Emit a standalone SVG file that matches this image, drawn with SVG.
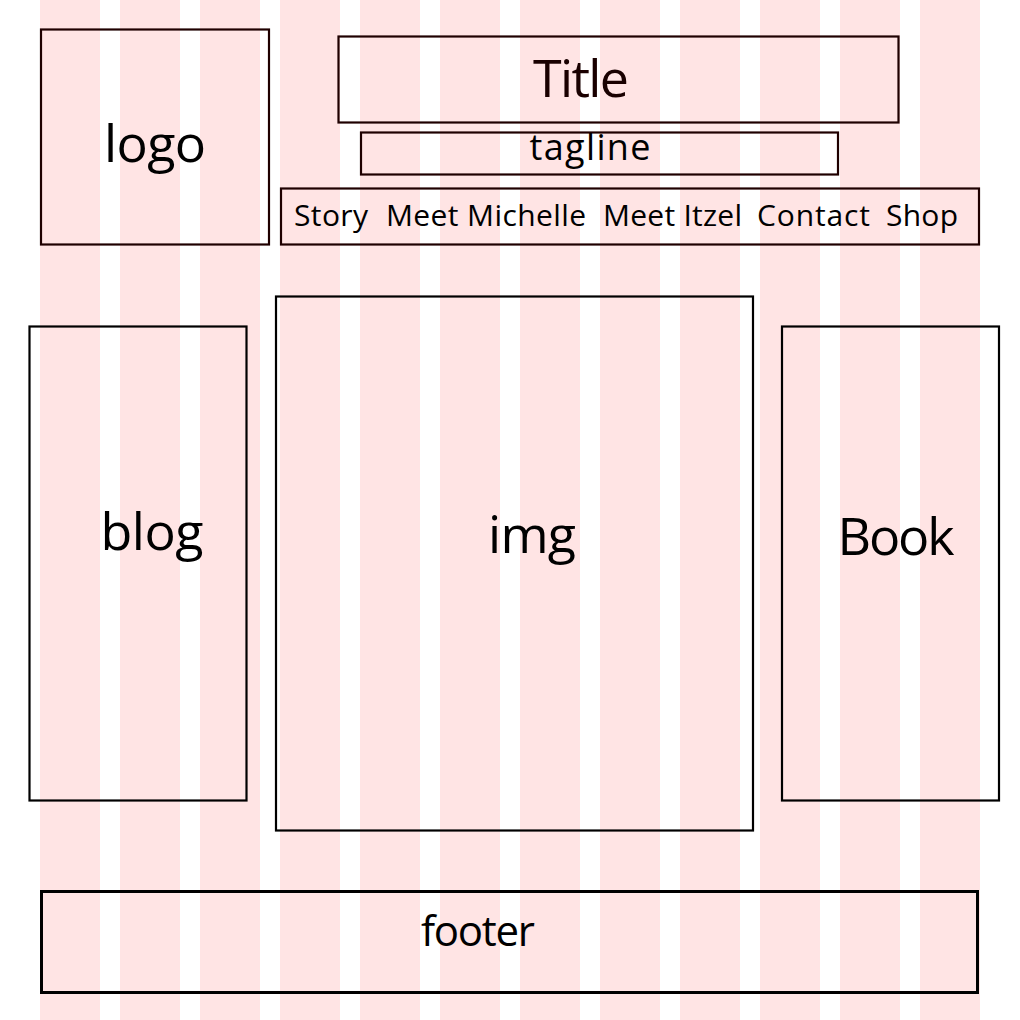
<svg xmlns="http://www.w3.org/2000/svg" width="1020" height="1020" viewBox="0 0 1020 1020">
<style>
.col{fill:#FFE4E4}
.top{fill:none;stroke:#1f0000;stroke-width:2.2}
.box{fill:none;stroke:#000;stroke-width:2.2}
.ft{fill:none;stroke:#000;stroke-width:3}
text{font-family:"Open Sans","Noto Sans",sans-serif;fill:#000}
.t{fill:#1a0000}
</style>
<rect width="1020" height="1020" fill="#fff"/>
<g id="grid">
<rect class="col" x="40" y="0" width="60" height="1020"/>
<rect class="col" x="120" y="0" width="60" height="1020"/>
<rect class="col" x="200" y="0" width="60" height="1020"/>
<rect class="col" x="280" y="0" width="60" height="1020"/>
<rect class="col" x="360" y="0" width="60" height="1020"/>
<rect class="col" x="440" y="0" width="60" height="1020"/>
<rect class="col" x="520" y="0" width="60" height="1020"/>
<rect class="col" x="600" y="0" width="60" height="1020"/>
<rect class="col" x="680" y="0" width="60" height="1020"/>
<rect class="col" x="760" y="0" width="60" height="1020"/>
<rect class="col" x="840" y="0" width="60" height="1020"/>
<rect class="col" x="920" y="0" width="60" height="1020"/>
</g>
<g id="logo">
<rect class="top" x="41" y="29.5" width="228" height="215"/>
<text x="155" y="162" font-size="52" text-anchor="middle" textLength="102">logo</text>
</g>
<g id="title">
<rect class="top" x="338.5" y="36.5" width="560" height="86"/>
<text class="t" x="581" y="97" font-size="52" text-anchor="middle" textLength="96">Title</text>
</g>
<g id="tagline">
<rect class="top" x="361" y="132.5" width="477" height="42"/>
<text x="590" y="160" font-size="36" text-anchor="middle" textLength="121">tagline</text>
</g>
<g id="nav">
<rect class="top" x="281" y="188.5" width="698" height="56"/>
<text x="294" y="226" font-size="30" textLength="74">Story</text>
<text x="386" y="226" font-size="30" textLength="200">Meet Michelle</text>
<text x="603" y="226" font-size="30" textLength="139">Meet Itzel</text>
<text x="757" y="226" font-size="30" textLength="113">Contact</text>
<text x="886" y="226" font-size="30" textLength="72">Shop</text>
</g>
<g id="blog">
<rect class="box" x="29.5" y="326.5" width="217" height="474"/>
<text x="152" y="550" font-size="52" text-anchor="middle" textLength="103">blog</text>
</g>
<g id="img">
<rect class="box" x="276" y="296.5" width="477" height="534"/>
<text x="532" y="553" font-size="52" text-anchor="middle" textLength="88">img</text>
</g>
<g id="book">
<rect class="box" x="782" y="326.5" width="217" height="474"/>
<text x="896" y="555" font-size="52" text-anchor="middle" textLength="117">Book</text>
</g>
<g id="footer">
<rect class="ft" x="41.5" y="891.5" width="936" height="101"/>
<text x="478" y="946" font-size="42" text-anchor="middle" textLength="114">footer</text>
</g>
<g id="connectors"/>
</svg>
